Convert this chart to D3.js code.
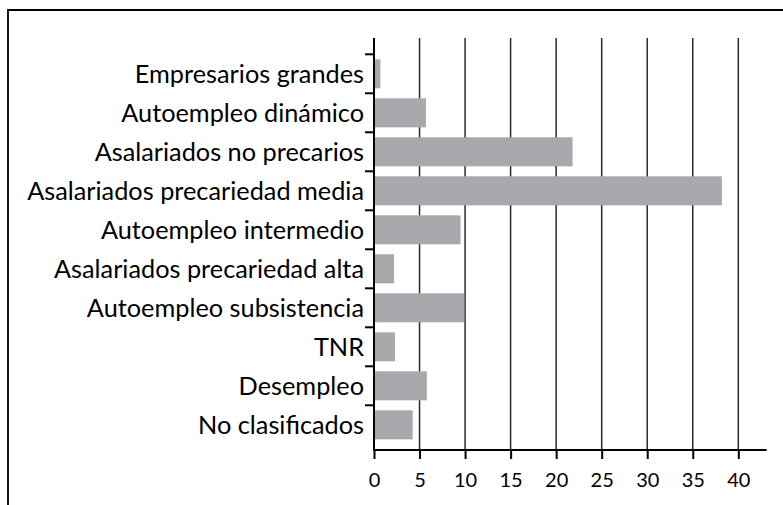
<!DOCTYPE html>
<html>
<head>
<meta charset="utf-8">
<script src="https://cdn.jsdelivr.net/npm/d3@7"></script>
<style>
  body { margin: 0; background: #fff; }
  svg { display: block; }
</style>
</head>
<body>
<div id="chart"></div>
<script>
// categories top to bottom
const categories = [
  "Empresarios grandes",
  "Autoempleo dinámico",
  "Asalariados no precarios",
  "Asalariados precariedad media",
  "Autoempleo intermedio",
  "Asalariados precariedad alta",
  "Autoempleo subsistencia",
  "TNR",
  "Desempleo",
  "No clasificados"
];
const values = [0.7, 5.7, 21.8, 38.2, 9.5, 2.2, 9.9, 2.3, 5.8, 4.25];
const xTicks = [0, 5, 10, 15, 20, 25, 30, 35, 40];

const width = 783, height = 505;

const svg = d3.select("#chart")
  .append("svg")
    .attr("width", width)
    .attr("height", height);

// frame (only top and left visible)
svg.append("path")
  .attr("d", "M8,505 L8,10 L783,10")
  .attr("fill", "none")
  .attr("stroke", "#000")
  .attr("stroke-width", 1.8);

const x = d3.scaleLinear()
  .domain([0, 40])
  .range([374, 738.3]);

const y = d3.scaleBand()
  .domain(categories)
  .range([54.3, 444.3])
  .paddingInner(0.256)
  .paddingOuter(0.128);

const plotTop = 38, axisY = 450;

// vertical grid lines
svg.selectAll(".grid")
  .data(xTicks.slice(1))
  .enter()
  .append("line")
    .attr("x1", d => x(d))
    .attr("x2", d => x(d))
    .attr("y1", plotTop)
    .attr("y2", axisY)
    .attr("stroke", "#2a2a2a")
    .attr("stroke-width", 1.5);

// bars
svg.selectAll(".bar")
  .data(categories)
  .enter()
  .append("rect")
    .attr("x", x(0) + 1)
    .attr("y", d => y(d))
    .attr("width", (d, i) => x(values[i]) - x(0) - 1)
    .attr("height", y.bandwidth())
    .attr("fill", "#a8a9ac");

// x axis
const xAxis = svg.append("g")
  .attr("transform", "translate(0," + axisY + ")")
  .call(d3.axisBottom(x).tickValues(xTicks).tickSize(9).tickPadding(14).tickSizeOuter(0));
xAxis.select(".domain")
  .attr("d", "M" + x(0) + ",0H766.7")
  .attr("stroke-width", 2);
xAxis.selectAll(".tick line").attr("stroke-width", 2);
xAxis.selectAll(".tick text")
  .attr("font-family", "Lato, 'Open Sans', sans-serif")
  .attr("font-size", 20)
  .attr("fill", "#000");

// y axis line
svg.append("line")
  .attr("x1", x(0)).attr("x2", x(0))
  .attr("y1", plotTop).attr("y2", axisY + 1)
  .attr("stroke", "#000")
  .attr("stroke-width", 2);

// category boundary ticks
const step = y.step();
svg.selectAll(".ytick")
  .data(categories)
  .enter()
  .append("line")
    .attr("x1", x(0) - 9)
    .attr("x2", x(0))
    .attr("y1", d => y(d) - step * y.paddingInner() / 2)
    .attr("y2", d => y(d) - step * y.paddingInner() / 2)
    .attr("stroke", "#000")
    .attr("stroke-width", 2);

// category labels
svg.selectAll(".label")
  .data(categories)
  .enter()
  .append("text")
    .attr("x", 364)
    .attr("y", d => y(d) + y.bandwidth() / 2 + 9)
    .attr("text-anchor", "end")
    .attr("font-family", "Lato, 'Open Sans', sans-serif")
    .attr("font-size", 25.3)
    .attr("fill", "#000")
    .text(d => d);
</script>
</body>
</html>
